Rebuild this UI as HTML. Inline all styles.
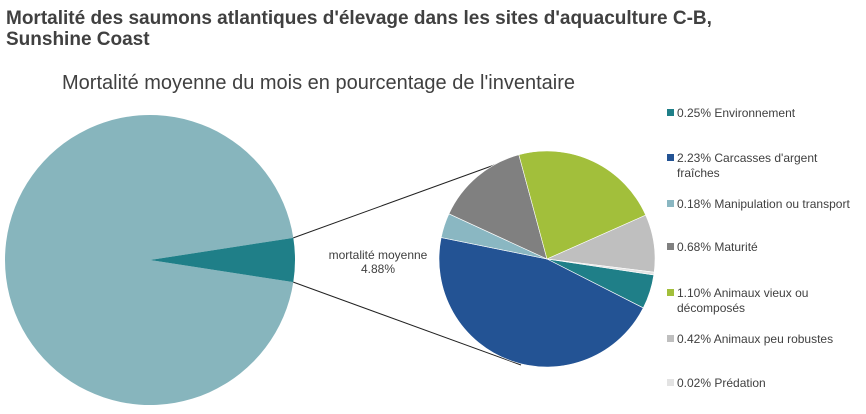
<!DOCTYPE html>
<html><head><meta charset="utf-8"><style>
body{margin:0;background:#fff;font-family:"Liberation Sans",sans-serif;}
svg text{font-family:"Liberation Sans",sans-serif;}
</style></head><body>
<svg width="866" height="409" viewBox="0 0 866 409">
<text x="6" y="24" font-size="19" font-weight="bold" fill="#404040">Mortalité des saumons atlantiques d'élevage dans les sites d'aquaculture C-B,</text>
<text x="6" y="45" font-size="19" font-weight="bold" fill="#404040">Sunshine Coast</text>
<text x="62" y="89" font-size="20" fill="#404040">Mortalité moyenne du mois en pourcentage de l'inventaire</text>
<g id="main"></g>
<g id="sub"></g>
<g id="legend"></g>
<text x="378" y="259" font-size="12" text-anchor="middle" fill="#404040">mortalité moyenne</text>
<text x="378" y="273" font-size="12" text-anchor="middle" fill="#404040">4.88%</text>
</svg>
<script>
const categories=["Environnement","Carcasses d'argent fraîches","Manipulation ou transport","Maturité","Animaux vieux ou décomposés","Animaux peu robustes","Prédation"];
const values=[0.25,2.23,0.18,0.68,1.10,0.42,0.02];
const labels=["0.25% Environnement","2.23% Carcasses d'argent|fraîches","0.18% Manipulation ou transport","0.68% Maturité","1.10% Animaux vieux ou|décomposés","0.42% Animaux peu robustes","0.02% Prédation"];
const avgMortality=4.88;
const colors=["#1f7f88","#235394","#8ab7c2","#808080","#a2bf3b","#bfbfbf","#e3e3e3"];
const NS="http://www.w3.org/2000/svg";
function arc(cx,cy,r,a0,a1){
  const r0=a0*Math.PI/180,r1=a1*Math.PI/180;
  const x0=cx+r*Math.cos(r0),y0=cy+r*Math.sin(r0),x1=cx+r*Math.cos(r1),y1=cy+r*Math.sin(r1);
  const large=(a1-a0)>180?1:0;
  return `M${cx},${cy}L${x0},${y0}A${r},${r} 0 ${large} 1 ${x1},${y1}Z`;
}
const main=document.getElementById('main');
const bcx=150,bcy=260,br=145;
const half=avgMortality/100*360/2;
let p=document.createElementNS(NS,'path');
p.setAttribute('d',arc(bcx,bcy,br,half,360-half));
p.setAttribute('fill','#87b5bd');


main.appendChild(p);
p=document.createElementNS(NS,'path');
p.setAttribute('d',arc(bcx,bcy,br,-half,half));
p.setAttribute('fill','#1f7f88');


main.appendChild(p);
const scx=547,scy=259,sr=108;
const total=values.reduce((a,b)=>a+b,0);
// connector lines
const ex=bcx+br*Math.cos(half*Math.PI/180),ey1=bcy-br*Math.sin(half*Math.PI/180),ey2=bcy+br*Math.sin(half*Math.PI/180);
[[ey1,155,522,'connector-top'],[ey2,365,521,'connector-bottom']].forEach(c=>{
  const l=document.createElementNS(NS,'line');
  l.setAttribute('x1',ex);l.setAttribute('y1',c[0]);l.setAttribute('x2',c[2]);l.setAttribute('y2',c[1]);
  l.setAttribute('stroke','#222');l.setAttribute('stroke-width','1');
  
  
  main.appendChild(l);
});
const sub=document.getElementById('sub');
let a=8.5;
values.forEach((v,i)=>{
  const span=v/total*360;
  const s=document.createElementNS(NS,'path');
  s.setAttribute('d',arc(scx,scy,sr,a,a+span));
  s.setAttribute('fill',colors[i]);
  s.setAttribute('stroke','#fff');s.setAttribute('stroke-width','0.6');
  
  
  sub.appendChild(s);
  a+=span;
});
const lg=document.getElementById('legend');
const ys=[113,158,204,247,293,339,383];
labels.forEach((t,i)=>{
  const g=document.createElementNS(NS,'g');
  
  
  const r=document.createElementNS(NS,'rect');
  r.setAttribute('x',667);r.setAttribute('y',ys[i]-4);r.setAttribute('width',7);r.setAttribute('height',7);
  r.setAttribute('fill',colors[i]);
  g.appendChild(r);
  t.split('|').forEach((line,j)=>{
    const tx=document.createElementNS(NS,'text');
    tx.setAttribute('x',677);tx.setAttribute('y',ys[i]+4+j*15);
    tx.setAttribute('font-size','12');tx.setAttribute('fill','#404040');
    tx.textContent=line;
    g.appendChild(tx);
  });
  lg.appendChild(g);
});
</script>
</body></html>
